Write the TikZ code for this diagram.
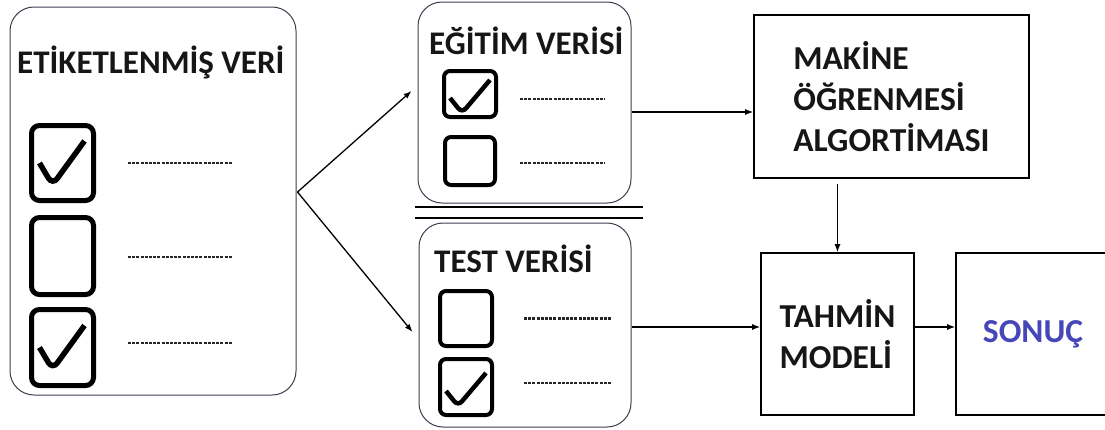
\documentclass[tikz,border=0pt]{standalone}
\usepackage{fontspec}
\setmainfont{Carlito}
\usetikzlibrary{calc,arrows.meta}
\definecolor{ink}{RGB}{22,22,22}
\definecolor{frame}{RGB}{62,62,82}
\definecolor{resultblue}{RGB}{70,70,185}
\begin{document}
\begin{tikzpicture}[x=1pt,y=-1pt,
  panel/.style={draw=frame, line width=1pt, rounded corners=24pt, inner sep=0pt},
  block/.style={draw=black, line width=1.6pt, inner sep=0pt, text=ink, align=left,
    font=\bfseries\fontsize{33.5}{41}\selectfont},
  heading/.style={font=\bfseries\fontsize{33}{38}\selectfont, text=ink, inner sep=0pt, anchor=base west},
  bigbox/.style={draw=black, line width=5pt, rounded corners=8pt, minimum width=62pt, minimum height=75pt, inner sep=0pt},
  smallbox/.style={draw=black, line width=4pt, rounded corners=6pt, minimum width=52pt, inner sep=0pt},
  bigtick/.style={path picture={\draw[line width=5.5pt, line join=miter]
    ([shift={(-23,0)}]path picture bounding box.center) --
    ([shift={(-10,22)}]path picture bounding box.center) --
    ([shift={(22,-22)}]path picture bounding box.center);}},
  smalltick/.style={path picture={\draw[line width=4.5pt, line join=miter]
    ([shift={(-20,4)}]path picture bounding box.center) --
    ([shift={(-8,19)}]path picture bounding box.center) --
    ([shift={(20,-14)}]path picture bounding box.center);}},
  leader/.style={line width=2.4pt, dash pattern=on 3pt off 1.2pt, draw=black!85},
  arr/.style={-{Latex[length=8pt,width=6pt]}, line width=1.3pt, draw=black},
]
\useasboundingbox (0,0) rectangle (1105,429);
\clip (0,0) rectangle (1105,429);

% labelled data panel
\node[panel, minimum width=286pt, minimum height=388pt] (lab) at (153,201) {};
\node[heading] (labtitle) at (17,73) {ETİKETLENMİŞ VERİ};
\node[bigbox, bigtick] (l1) at (62.5,163) {};
\node[bigbox, minimum height=77pt] (l2) at (62.5,256) {};
\node[bigbox, minimum height=76pt, bigtick] (l3) at (62.5,347.5) {};
\draw[leader] ($(l1.east)+(32,0)$) -- ++(104,0);
\draw[leader] ($(l2.east)+(32,1)$) -- ++(104,0);
\draw[leader] ($(l3.east)+(32,-4.5)$) -- ++(104,0);

% training data panel
\node[panel, minimum width=213pt, minimum height=201pt] (train) at (524.5,102.5) {};
\node[heading] (traintitle) at (429,54) {EĞİTİM VERİSİ};
\node[smallbox, minimum height=46pt, smalltick] (t1) at (470,94) {};
\node[smallbox, minimum width=50pt, minimum height=48pt] (t2) at (470,161) {};
\draw[leader] ($(t1.east)+(22,5)$) -- ++(85,0);
\draw[leader] ($(t2.east)+(23,2)$) -- ++(85,0);

% separator
\draw[line width=1.6pt] (415,207) -- (643,207);
\draw[line width=1.6pt] (415,218) -- (643,218);

% test data panel
\node[panel, minimum width=212pt, minimum height=204pt] (test) at (525,325) {};
\node[heading] (testtitle) at (434,272) {TEST VERİSİ};
\node[smallbox, minimum height=55pt] (s1) at (466,318.5) {};
\node[smallbox, minimum height=56pt, smalltick] (s2) at (466,387) {};
\draw[leader] ($(s1.east)+(30,0)$) -- ++(88,0);
\draw[leader] ($(s2.east)+(30,-4)$) -- ++(88,0);

% processing blocks
\node[block, minimum width=275pt, minimum height=163pt] (algo) at (891.5,96.5) {MAKİNE\\ÖĞRENMESİ\\ALGORTİMASI};
\node[block, minimum width=153pt, minimum height=162pt] (model) at (837.5,334) {TAHMİN\\MODELİ};
\node[block, minimum width=154pt, minimum height=162pt, text=resultblue] (result) at (1033,334) {SONUÇ};

% connectors
\coordinate (fork) at ($(lab.east)+(1,-9)$);
\draw[arr] (fork) -- ($(train.west)+(-6,-11.5)$);
\draw[arr] (fork) -- ($(test.west)+(-6,7)$);
\coordinate (a1) at ($(train.east)+(0,9.5)$);
\draw[arr] (a1) -- (a1 -| algo.west);
\draw[arr, shorten <=5pt] (model.north |- algo.south) -- (model.north);
\coordinate (a2) at ($(test.east)+(0,2)$);
\draw[arr] (a2) -- (a2 -| model.west);
\coordinate (a3) at ($(model.east)+(0,-7)$);
\draw[arr] (a3) -- (a3 -| result.west);
\end{tikzpicture}
\end{document}
